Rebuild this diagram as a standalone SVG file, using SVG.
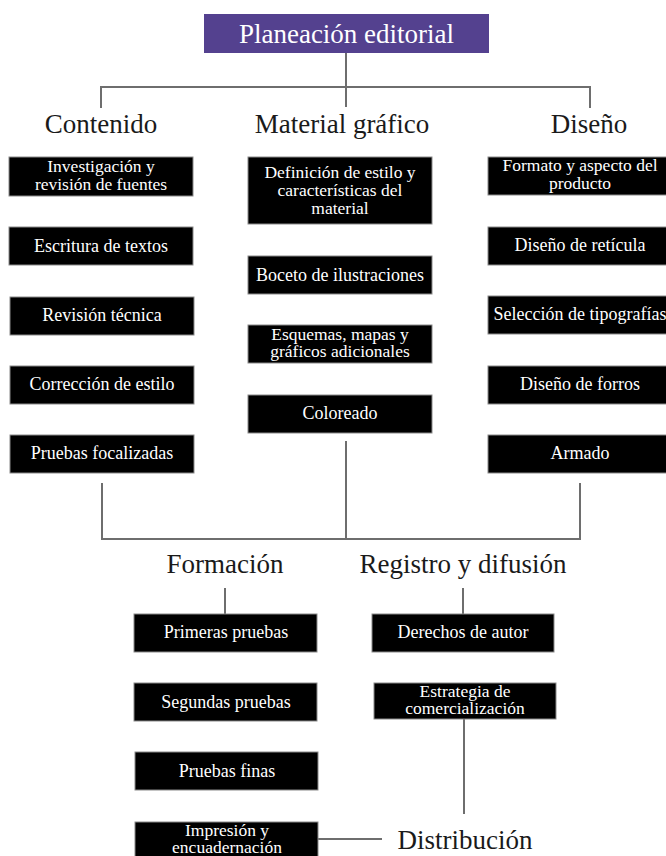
<svg xmlns="http://www.w3.org/2000/svg" width="666" height="856" viewBox="0 0 666 856">
<style>
.bg{fill:#ffffff}
.box{fill:#000000;stroke:#8a8a8a;stroke-width:1}
.t{font-family:"Liberation Serif","Times New Roman",serif;font-size:18px;fill:#ffffff;text-anchor:middle}
.t2{font-family:"Liberation Serif","Times New Roman",serif;font-size:17.5px;fill:#ffffff;text-anchor:middle}
.h{font-family:"Liberation Serif","Times New Roman",serif;font-size:27px;fill:#1a1a1a;text-anchor:middle}
.ttl{font-family:"Liberation Serif","Times New Roman",serif;font-size:27px;fill:#ffffff;text-anchor:middle}
.ln{stroke:#6e6e6e;stroke-width:2;fill:none}
</style>
<rect class="bg" x="0" y="0" width="666" height="856"/>
<g id="connectors">
<path class="ln" d="M346,53 V107 M101,108 V87 H590 V108"/>
<path class="ln" d="M102,483 V539 H580 V483 M346,441 V539"/>
<path class="ln" d="M225,588 V614 M463,588 V614"/>
<path class="ln" d="M464,719 V814 M318,839 H382"/>
</g>
<g id="planeacion"><rect x="204" y="14" width="285" height="39" fill="#54418f"/><text class="ttl" x="346.5" y="43">Planeación editorial</text></g>
<g id="contenido"><text class="h" x="101" y="133">Contenido</text></g>
<g id="material"><text class="h" x="342" y="133">Material gráfico</text></g>
<g id="diseno"><text class="h" x="589" y="133">Diseño</text></g>
<g id="c1"><rect class="box" x="9" y="157" width="184" height="39"/><text class="t2" x="101" y="172">Investigación y</text><text class="t2" x="101" y="190">revisión de fuentes</text></g>
<g id="c2"><rect class="box" x="9" y="227" width="184" height="38"/><text class="t" x="101" y="252">Escritura de textos</text></g>
<g id="c3"><rect class="box" x="10" y="297" width="184" height="38"/><text class="t" x="102" y="321">Revisión técnica</text></g>
<g id="c4"><rect class="box" x="10" y="366" width="184" height="38"/><text class="t" x="102" y="390">Corrección de estilo</text></g>
<g id="c5"><rect class="box" x="10" y="435" width="184" height="38"/><text class="t" x="102" y="459">Pruebas focalizadas</text></g>
<g id="m1"><rect class="box" x="248" y="157" width="184" height="67"/><text class="t2" x="340" y="178">Definición de estilo y</text><text class="t2" x="340" y="196">características del</text><text class="t2" x="340" y="214">material</text></g>
<g id="m2"><rect class="box" x="248" y="256" width="184" height="38"/><text class="t" x="340" y="281">Boceto de ilustraciones</text></g>
<g id="m3"><rect class="box" x="248" y="325" width="184" height="38"/><text class="t2" x="340" y="340">Esquemas, mapas y</text><text class="t2" x="340" y="357">gráficos adicionales</text></g>
<g id="m4"><rect class="box" x="248" y="395" width="184" height="38"/><text class="t" x="340" y="419">Coloreado</text></g>
<g id="d1"><rect class="box" x="488" y="157" width="184" height="38"/><text class="t2" x="580" y="171">Formato y aspecto del</text><text class="t2" x="580" y="189">producto</text></g>
<g id="d2"><rect class="box" x="488" y="227" width="184" height="38"/><text class="t" x="580" y="251">Diseño de retícula</text></g>
<g id="d3"><rect class="box" x="488" y="296" width="184" height="38"/><text class="t" x="580" y="320">Selección de tipografías</text></g>
<g id="d4"><rect class="box" x="488" y="366" width="184" height="38"/><text class="t" x="580" y="390">Diseño de forros</text></g>
<g id="d5"><rect class="box" x="488" y="435" width="184" height="38"/><text class="t" x="580" y="459">Armado</text></g>
<g id="formacion"><text class="h" x="225" y="573">Formación</text></g>
<g id="registro"><text class="h" x="463" y="573">Registro y difusión</text></g>
<g id="f1"><rect class="box" x="134" y="614" width="183" height="38"/><text class="t" x="226" y="638">Primeras pruebas</text></g>
<g id="f2"><rect class="box" x="134" y="683" width="183" height="38"/><text class="t" x="226" y="708">Segundas pruebas</text></g>
<g id="f3"><rect class="box" x="135" y="752" width="183" height="38"/><text class="t" x="227" y="777">Pruebas finas</text></g>
<g id="f4"><rect class="box" x="135" y="822" width="183" height="40"/><text class="t2" x="227" y="836">Impresión y</text><text class="t2" x="227" y="853">encuadernación</text></g>
<g id="r1"><rect class="box" x="372" y="614" width="182" height="38"/><text class="t" x="463" y="638">Derechos de autor</text></g>
<g id="r2"><rect class="box" x="374" y="683" width="182" height="36"/><text class="t2" x="465" y="697">Estrategia de</text><text class="t2" x="465" y="714">comercialización</text></g>
<g id="distribucion"><text class="h" x="465" y="849">Distribución</text></g>
</svg>
